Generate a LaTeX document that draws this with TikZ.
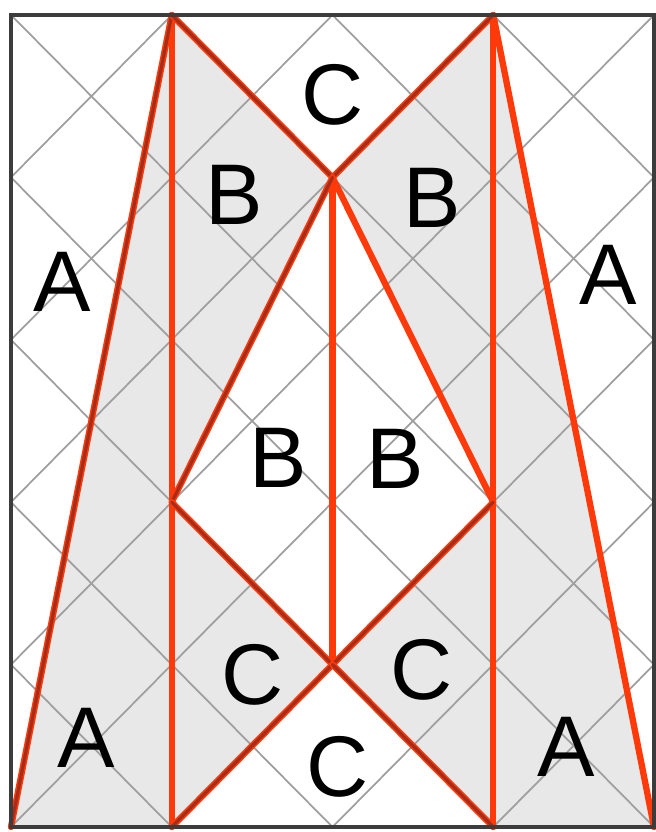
\documentclass[tikz,border=0pt]{standalone}
\usepackage{fontspec}
\setmainfont{Liberation Sans}
\definecolor{rouge}{RGB}{255,58,10}
\definecolor{brun}{RGB}{165,45,25}
\definecolor{cadre}{RGB}{60,60,60}
\definecolor{fond}{RGB}{232,232,232}
\begin{document}
\begin{tikzpicture}[x=1.6075cm,y=1.624cm,
	pli/.style={rouge,line width=1.8pt,line cap=round},
	plibrun/.style={brun,line width=0.9pt,line cap=round},
	lettre/.style={inner sep=0pt,font=\fontsize{24.5}{28}\selectfont}]
	\useasboundingbox (-0.0684,-0.0308) rectangle (4.0124,5.0924) ;
	\coordinate (BL) at (0,0) ;
	\coordinate (B1) at (1,0) ;
	\coordinate (B3) at (3,0) ;
	\coordinate (BR) at (4,0) ;
	\coordinate (TL) at (0,5) ;
	\coordinate (T1) at (1,5) ;
	\coordinate (T3) at (3,5) ;
	\coordinate (TR) at (4,5) ;
	\coordinate (Sommet) at (2,4) ;
	\coordinate (Gauche) at (1,2) ;
	\coordinate (Droite) at (3,2) ;
	\coordinate (Centre) at (2,1) ;
	% zones grises
	\fill[fond] (BL) -- (T1) -- (B1) -- cycle ;
	\fill[fond] (T1) -- (Sommet) -- (Gauche) -- cycle ;
	\fill[fond] (T3) -- (Sommet) -- (Droite) -- cycle ;
	\fill[fond] (Gauche) -- (Centre) -- (B1) -- cycle ;
	\fill[fond] (Droite) -- (Centre) -- (B3) -- cycle ;
	\fill[fond] (T3) -- (BR) -- (B3) -- cycle ;
	% quadrillage en diagonale
	\foreach \i in {0,...,3}
		\foreach \j in {0,...,4} {
			\draw[gray!75,line width=0.5pt] (\i,\j) -- ++(1,1) ;
			\draw[gray!75,line width=0.5pt] (\i+1,\j) -- ++(-1,1) ;
		}
	% plis
	\draw[pli] (T1) -- (B1) ;
	\draw[pli] (T3) -- (B3) ;
	\draw[pli] (Sommet) -- (Centre) ;
	\draw[pli] (Sommet) -- (Droite) ;
	\draw[pli] (T3) -- (BR) ;
	\foreach \a/\b in {BL/T1,T1/Sommet,Sommet/T3,Sommet/Gauche,Gauche/Centre,Centre/Droite,B1/Centre,Centre/B3} {
		\draw[pli] (\a) -- (\b) ;
		\draw[plibrun] (\a) -- (\b) ;
	}
	\draw[cadre,line width=1.4pt] (BL) rectangle (TR) ;
	% lettres
	\node[lettre] (Ctop) at (2,4.51) {C} ;
	\node[lettre] (Btl) at (1.387,3.89) {B} ;
	\node[lettre] (Btr) at (2.619,3.875) {B} ;
	\node[lettre] (Al) at (0.317,3.356) {A} ;
	\node[lettre] (Ar) at (3.714,3.399) {A} ;
	\node[lettre] (Bml) at (1.661,2.272) {B} ;
	\node[lettre] (Bmr) at (2.389,2.266) {B} ;
	\node[lettre] (Cbl) at (1.505,0.936) {C} ;
	\node[lettre] (Cbr) at (2.557,0.967) {C} ;
	\node[lettre] (Abl) at (0.467,0.548) {A} ;
	\node[lettre] (Abr) at (3.453,0.493) {A} ;
	\node[lettre] (Cbas) at (2.034,0.369) {C} ;
\end{tikzpicture}
\end{document}
